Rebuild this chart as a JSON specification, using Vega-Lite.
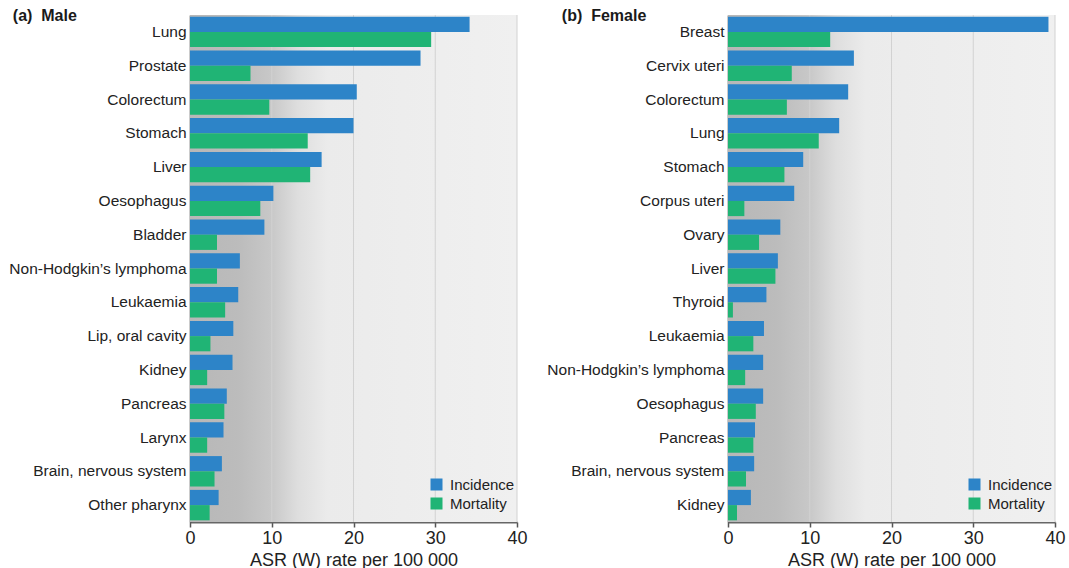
{
  "$schema": "https://vega.github.io/schema/vega-lite/v6.json",
  "background": "white",
  "padding": {"left": 8, "top": 7, "right": 2, "bottom": 2},
  "datasets": {
    "male": [
      {"cancer": "Lung", "measure": "Incidence", "value": 34.2},
      {"cancer": "Lung", "measure": "Mortality", "value": 29.5},
      {"cancer": "Prostate", "measure": "Incidence", "value": 28.2},
      {"cancer": "Prostate", "measure": "Mortality", "value": 7.4},
      {"cancer": "Colorectum", "measure": "Incidence", "value": 20.4},
      {"cancer": "Colorectum", "measure": "Mortality", "value": 9.7},
      {"cancer": "Stomach", "measure": "Incidence", "value": 20.0},
      {"cancer": "Stomach", "measure": "Mortality", "value": 14.4},
      {"cancer": "Liver", "measure": "Incidence", "value": 16.1},
      {"cancer": "Liver", "measure": "Mortality", "value": 14.7},
      {"cancer": "Oesophagus", "measure": "Incidence", "value": 10.2},
      {"cancer": "Oesophagus", "measure": "Mortality", "value": 8.6},
      {"cancer": "Bladder", "measure": "Incidence", "value": 9.1},
      {"cancer": "Bladder", "measure": "Mortality", "value": 3.3},
      {"cancer": "Non-Hodgkin’s lymphoma", "measure": "Incidence", "value": 6.1},
      {"cancer": "Non-Hodgkin’s lymphoma", "measure": "Mortality", "value": 3.3},
      {"cancer": "Leukaemia", "measure": "Incidence", "value": 5.9},
      {"cancer": "Leukaemia", "measure": "Mortality", "value": 4.3},
      {"cancer": "Lip, oral cavity", "measure": "Incidence", "value": 5.3},
      {"cancer": "Lip, oral cavity", "measure": "Mortality", "value": 2.5},
      {"cancer": "Kidney", "measure": "Incidence", "value": 5.2},
      {"cancer": "Kidney", "measure": "Mortality", "value": 2.1},
      {"cancer": "Pancreas", "measure": "Incidence", "value": 4.5},
      {"cancer": "Pancreas", "measure": "Mortality", "value": 4.2},
      {"cancer": "Larynx", "measure": "Incidence", "value": 4.1},
      {"cancer": "Larynx", "measure": "Mortality", "value": 2.1},
      {"cancer": "Brain, nervous system", "measure": "Incidence", "value": 3.9},
      {"cancer": "Brain, nervous system", "measure": "Mortality", "value": 3.0},
      {"cancer": "Other pharynx", "measure": "Incidence", "value": 3.5},
      {"cancer": "Other pharynx", "measure": "Mortality", "value": 2.4}
    ],
    "female": [
      {"cancer": "Breast", "measure": "Incidence", "value": 39.2},
      {"cancer": "Breast", "measure": "Mortality", "value": 12.5},
      {"cancer": "Cervix uteri", "measure": "Incidence", "value": 15.4},
      {"cancer": "Cervix uteri", "measure": "Mortality", "value": 7.8},
      {"cancer": "Colorectum", "measure": "Incidence", "value": 14.7},
      {"cancer": "Colorectum", "measure": "Mortality", "value": 7.2},
      {"cancer": "Lung", "measure": "Incidence", "value": 13.6},
      {"cancer": "Lung", "measure": "Mortality", "value": 11.1},
      {"cancer": "Stomach", "measure": "Incidence", "value": 9.2},
      {"cancer": "Stomach", "measure": "Mortality", "value": 6.9},
      {"cancer": "Corpus uteri", "measure": "Incidence", "value": 8.1},
      {"cancer": "Corpus uteri", "measure": "Mortality", "value": 2.0},
      {"cancer": "Ovary", "measure": "Incidence", "value": 6.4},
      {"cancer": "Ovary", "measure": "Mortality", "value": 3.8},
      {"cancer": "Liver", "measure": "Incidence", "value": 6.1},
      {"cancer": "Liver", "measure": "Mortality", "value": 5.8},
      {"cancer": "Thyroid", "measure": "Incidence", "value": 4.7},
      {"cancer": "Thyroid", "measure": "Mortality", "value": 0.6},
      {"cancer": "Leukaemia", "measure": "Incidence", "value": 4.4},
      {"cancer": "Leukaemia", "measure": "Mortality", "value": 3.1},
      {"cancer": "Non-Hodgkin’s lymphoma", "measure": "Incidence", "value": 4.3},
      {"cancer": "Non-Hodgkin’s lymphoma", "measure": "Mortality", "value": 2.1},
      {"cancer": "Oesophagus", "measure": "Incidence", "value": 4.3},
      {"cancer": "Oesophagus", "measure": "Mortality", "value": 3.4},
      {"cancer": "Pancreas", "measure": "Incidence", "value": 3.3},
      {"cancer": "Pancreas", "measure": "Mortality", "value": 3.1},
      {"cancer": "Brain, nervous system", "measure": "Incidence", "value": 3.2},
      {"cancer": "Brain, nervous system", "measure": "Mortality", "value": 2.2},
      {"cancer": "Kidney", "measure": "Incidence", "value": 2.8},
      {"cancer": "Kidney", "measure": "Mortality", "value": 1.1}
    ],
    "grid": [{"v": 10}, {"v": 20}, {"v": 30}, {"v": 40}]
  },
  "hconcat": [
    {
      "width": 327,
      "height": 507,
      "title": {"text": "(a)\u00a0\u00a0Male", "dx": 4},
      "layer": [
        {
          "data": {"name": "grid"},
          "mark": {"type": "rect", "fill": {"gradient": "linear", "x1": 0, "y1": 0, "x2": 1, "y2": 0, "stops": [
            {"offset": 0, "color": "#b7b7b7"},
            {"offset": 0.15, "color": "#bcbcbc"},
            {"offset": 0.25, "color": "#c8c8c8"},
            {"offset": 0.33, "color": "#dedede"},
            {"offset": 0.42, "color": "#ebebeb"},
            {"offset": 1, "color": "#f0f0f0"}]}},
          "encoding": {
            "x": {"datum": 0, "type": "quantitative", "scale": {"domain": [0, 40], "nice": false},
                  "title": "ASR (W) rate per 100 000", "axis": {"values": [0, 10, 20, 30, 40], "grid": false}},
            "x2": {"datum": 40}
          }
        },
        {
          "data": {"name": "grid"},
          "mark": {"type": "rule", "color": "#d2d2d2", "strokeWidth": 1},
          "encoding": {
            "x": {"field": "v", "type": "quantitative", "scale": {"domain": [0, 40], "nice": false},
                  "title": "ASR (W) rate per 100 000", "axis": {"values": [0, 10, 20, 30, 40], "grid": false}}
          }
        },
        {
          "data": {"name": "male"},
          "mark": {"type": "bar"},
          "encoding": {
            "y": {"field": "cancer", "type": "nominal", "sort": null, "title": null,
                  "scale": {"paddingInner": 0.1, "paddingOuter": 0.05}},
            "yOffset": {"field": "measure", "type": "nominal", "sort": ["Incidence", "Mortality"]},
            "x": {"field": "value", "type": "quantitative", "scale": {"domain": [0, 40], "nice": false},
                  "title": "ASR (W) rate per 100 000",
                  "axis": {"values": [0, 10, 20, 30, 40], "grid": false}},
            "color": {"field": "measure", "type": "nominal",
                      "scale": {"domain": ["Incidence", "Mortality"], "range": ["#2d84c8", "#20b475"]},
                      "legend": {"title": " ", "orient": "bottom-right"}}
          }
        }
      ]
    },
    {
      "width": 327,
      "height": 507,
      "title": {"text": "(b)\u00a0\u00a0Female", "dx": 15},
      "layer": [
        {
          "data": {"name": "grid"},
          "mark": {"type": "rect", "fill": {"gradient": "linear", "x1": 0, "y1": 0, "x2": 1, "y2": 0, "stops": [
            {"offset": 0, "color": "#b7b7b7"},
            {"offset": 0.15, "color": "#bcbcbc"},
            {"offset": 0.25, "color": "#c8c8c8"},
            {"offset": 0.33, "color": "#dedede"},
            {"offset": 0.42, "color": "#ebebeb"},
            {"offset": 1, "color": "#f0f0f0"}]}},
          "encoding": {
            "x": {"datum": 0, "type": "quantitative", "scale": {"domain": [0, 40], "nice": false},
                  "title": "ASR (W) rate per 100 000", "axis": {"values": [0, 10, 20, 30, 40], "grid": false}},
            "x2": {"datum": 40}
          }
        },
        {
          "data": {"name": "grid"},
          "mark": {"type": "rule", "color": "#d2d2d2", "strokeWidth": 1},
          "encoding": {
            "x": {"field": "v", "type": "quantitative", "scale": {"domain": [0, 40], "nice": false},
                  "title": "ASR (W) rate per 100 000", "axis": {"values": [0, 10, 20, 30, 40], "grid": false}}
          }
        },
        {
          "data": {"name": "female"},
          "mark": {"type": "bar"},
          "encoding": {
            "y": {"field": "cancer", "type": "nominal", "sort": null, "title": null,
                  "scale": {"paddingInner": 0.1, "paddingOuter": 0.05}},
            "yOffset": {"field": "measure", "type": "nominal", "sort": ["Incidence", "Mortality"]},
            "x": {"field": "value", "type": "quantitative", "scale": {"domain": [0, 40], "nice": false},
                  "title": "ASR (W) rate per 100 000",
                  "axis": {"values": [0, 10, 20, 30, 40], "grid": false}},
            "color": {"field": "measure", "type": "nominal",
                      "scale": {"domain": ["Incidence", "Mortality"], "range": ["#2d84c8", "#20b475"]},
                      "legend": {"title": " ", "orient": "bottom-right"}}
          }
        }
      ]
    }
  ],
  "spacing": 18,
  "resolve": {"scale": {"color": "independent"}, "legend": {"color": "independent"}},
  "config": {
    "font": "Liberation Sans",
    "view": {"stroke": null},
    "title": {"anchor": "start", "frame": "bounds", "fontSize": 16, "fontWeight": "bold", "color": "#1a1a1a",
              "offset": -9, "baseline": "alphabetic"},
    "axisY": {"domainColor": "#333333", "domainWidth": 1.5, "ticks": false, "labelPadding": 4,
              "labelFontSize": 15.5, "labelColor": "#222222", "labelLimit": 300},
    "axisX": {"domainColor": "#666666", "domainWidth": 2, "tickColor": "#555555", "tickSize": 5, "tickWidth": 1.5,
              "labelFontSize": 18, "labelColor": "#222222", "labelPadding": 2, "labelFlush": false,
              "titleFontSize": 18, "titleFontWeight": "normal", "titleColor": "#222222", "titlePadding": 4},
    "legend": {"symbolType": "square", "symbolSize": 144, "symbolStrokeWidth": 0, "labelFontSize": 15,
               "labelColor": "#222222", "offset": 2, "rowPadding": 3, "labelOffset": 6,
               "titleOrient": "bottom", "titleFontSize": 8, "titlePadding": 0}
  }
}
